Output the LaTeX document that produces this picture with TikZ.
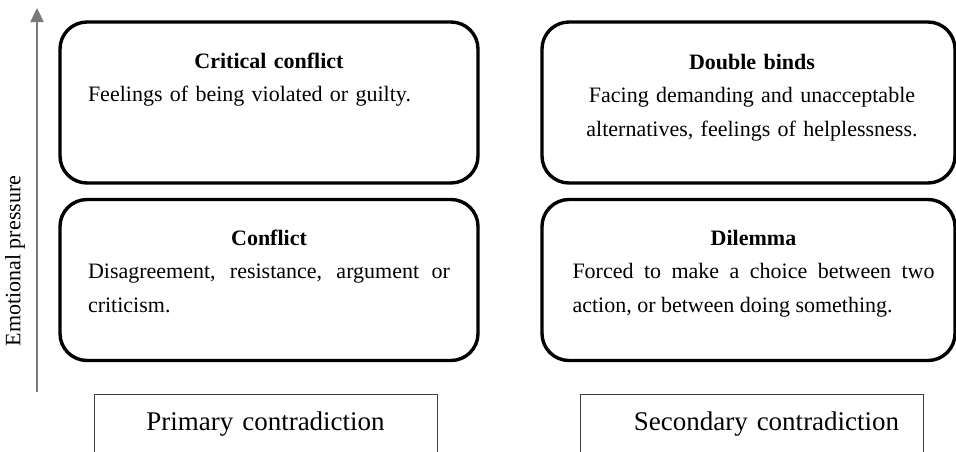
\documentclass[tikz,border=0pt]{standalone}
\usepackage{fontspec}
\setmainfont{Liberation Serif}
\usetikzlibrary{arrows.meta}
% a bold heading line that spans the whole text width
\newcommand\boxheading[1]{\makebox[362pt][c]{\bfseries #1}\\}
\begin{document}
\begin{tikzpicture}[x=1pt,y=-1pt,
  levelbox/.style={draw=black, line width=3.4pt, rounded corners=27pt,
    minimum width=#1, minimum height=161pt, inner sep=0pt},
  levelbox/.default=418pt,
  bodytext/.style={inner sep=0pt, text width=362pt, anchor=base,
    font=\fontsize{22pt}{33.5pt}\selectfont},
  kindlabel/.style={draw=black!75, line width=1pt, inner sep=0pt,
    text width=343pt, align=center, anchor=base,
    text height=36pt, text depth=40pt,
    font=\fontsize{27pt}{32pt}\selectfont},
  axis/.style={draw=black!52, line width=2.4pt,
    -{Triangle[length=14pt,width=13pt]}}
]
\useasboundingbox (0,0) rectangle (956,451);

% emotional pressure axis
\coordinate (axlow) at (37,392);
\coordinate (axtop) at (37,8);
\draw[axis] (axlow) -- (axtop);
\node[rotate=90, inner sep=0pt, font=\fontsize{22pt}{26pt}\selectfont]
  (axlabel) at (15,261) {Emotional pressure};

% four pressure levels
\node[levelbox] (crit) at (269,102.5) {};
\node[levelbox=413pt] (dbl) at (748.5,102.5) {};
\node[levelbox] (conf) at (269,280) {};
\node[levelbox=413pt] (dil) at (748.5,280) {};

\node[bodytext, align=left] (critT) at (269,68)
  {\boxheading{Critical conflict}Feelings of being violated or guilty.};
\node[bodytext, align=center] (dblT) at (752,69)
  {{\bfseries Double binds}\\Facing demanding and unacceptable\\alternatives, feelings of helplessness.};
\node[bodytext, align=justify] (confT) at (269,245)
  {\boxheading{Conflict}Disagreement, resistance, argument or\linebreak criticism.};
\node[bodytext, align=justify] (dilT) at (753.5,245)
  {\boxheading{Dilemma}Forced to make a choice between two\linebreak action, or between doing something.};

% contradiction labels
\node[kindlabel] (prim) at (265.5,430) {Primary contradiction};
\node[kindlabel] (sec) at (751.5,430) {\hspace*{30pt}Secondary contradiction};
\end{tikzpicture}
\end{document}
